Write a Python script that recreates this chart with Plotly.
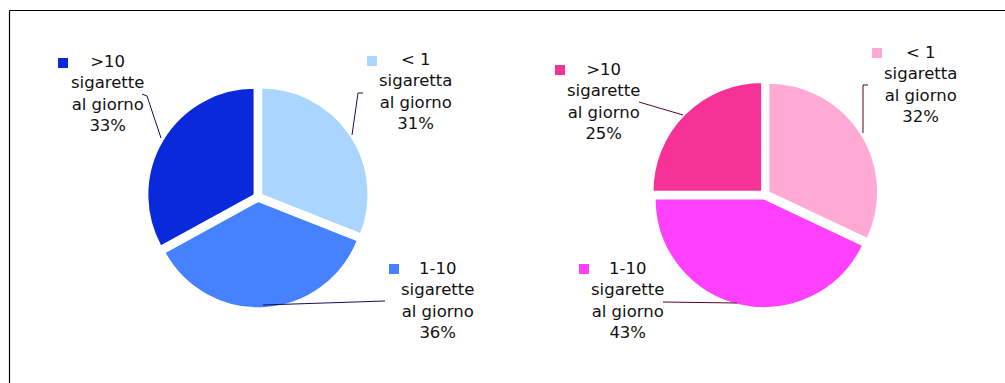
import plotly.graph_objects as go

W, H = 1005, 383

categories = ["< 1<br>sigaretta<br>al giorno", "1-10<br>sigarette<br>al giorno", ">10<br>sigarette<br>al giorno"]
values_left = [31, 36, 33]
values_right = [32, 43, 25]
colors_left = ["#A9D5FF", "#4681FF", "#0A29DA"]
colors_right = ["#FFAAD5", "#FF40FF", "#F63297"]

def px(x):
    return x / W

def py(y):
    return 1 - y / H

fig = go.Figure()

def add_pie(vals, cols, x0, x1, y0, y1):
    fig.add_trace(go.Pie(
        values=vals,
        labels=categories,
        marker=dict(colors=cols, line=dict(color="white", width=1.5)),
        sort=False,
        direction="clockwise",
        rotation=0,
        pull=[0.04, 0.04, 0.04],
        textinfo="none",
        hoverinfo="label+percent",
        showlegend=False,
        domain=dict(x=[px(x0), px(x1)], y=[py(y1), py(y0)]),
    ))

add_pie(values_left, colors_left, 146, 370, 86, 308)
add_pie(values_right, colors_right, 650, 880, 81, 308)

# label layout: (text center x, block middle y, square x, square y)
label_pos_left = [(415, 91.5, 367, 56), (437, 300.5, 389, 264), (107, 93.5, 58, 58)]
label_pos_right = [(920, 84.5, 872, 48), (627, 300.5, 579, 264), (603, 101.5, 555, 65)]
leaders_left = [[(363, 93), (358, 93), (352, 135)],
                [(385, 301), (263, 305)],
                [(142, 94), (147, 96), (161, 138)]]
leaders_right = [[(868, 85), (863, 85), (863, 133)],
                 [(663, 302), (737, 303)],
                 [(639, 102), (683, 115)]]

annotations = []
shapes = []

def add_labels(vals, cols, pos, leaders, lcolor):
    for v, c, cat, (tx, ty, sx, sy), pts in zip(vals, cols, categories, pos, leaders):
        annotations.append(dict(
            x=px(tx), y=py(ty), xref="paper", yref="paper",
            text=f"{cat}<br>{v}%", showarrow=False, align="center",
            xanchor="center", yanchor="middle",
            font=dict(family="DejaVu Sans", size=16.5, color="#111111"),
        ))
        shapes.append(dict(type="rect", xref="paper", yref="paper",
                           x0=px(sx), x1=px(sx + 10), y0=py(sy + 10), y1=py(sy),
                           fillcolor=c, line=dict(width=0)))
        path = "M " + " L ".join(f"{px(a)},{py(b)}" for a, b in pts)
        shapes.append(dict(type="path", xref="paper", yref="paper", path=path,
                           line=dict(color=lcolor, width=1)))

add_labels(values_left, colors_left, label_pos_left, leaders_left, "#10105A")
add_labels(values_right, colors_right, label_pos_right, leaders_right, "#5A0030")

# frame
shapes.append(dict(type="line", xref="paper", yref="paper",
                   x0=px(9.5), x1=px(9.5), y0=0, y1=py(10.5),
                   line=dict(color="black", width=1.2)))
shapes.append(dict(type="line", xref="paper", yref="paper",
                   x0=px(9.5), x1=1, y0=py(10.5), y1=py(10.5),
                   line=dict(color="black", width=1.2)))

fig.update_layout(
    width=W, height=H,
    margin=dict(l=0, r=0, t=0, b=0),
    paper_bgcolor="white", plot_bgcolor="white",
    annotations=annotations, shapes=shapes,
)

fig.write_html("out.html", config={"displayModeBar": False},
               post_script="document.body.style.margin='0';document.body.style.overflow='hidden';")
